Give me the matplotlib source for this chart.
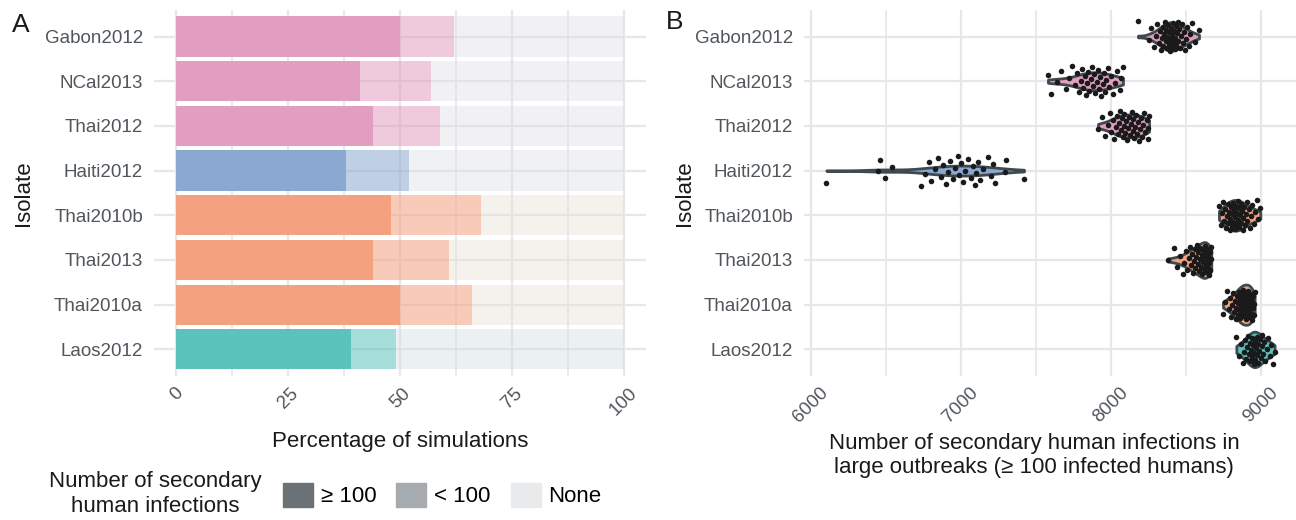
"""
Zwei Panels: Anteil grosser Ausbrueche pro Isolat (A) und Verteilung der
sekundaeren Infektionen in grossen Ausbruechen (B).
"""
import matplotlib
matplotlib.use("Agg")
import matplotlib.pyplot as plt
from matplotlib import cbook, mlab
from matplotlib.patches import Patch
import numpy as np

plt.rcParams["font.family"] = ["Liberation Sans", "DejaVu Sans"]

# --- Daten -----------------------------------------------------------------
isolates = ["Gabon2012", "NCal2013", "Thai2012", "Haiti2012",
            "Thai2010b", "Thai2013", "Thai2010a", "Laos2012"]
groups = ["pink", "pink", "pink", "blue", "orange", "orange", "orange", "teal"]

pct_large = [50, 41, 44, 38, 48, 44, 50, 39]   # >= 100
pct_small = [12, 16, 15, 14, 20, 17, 16, 10]   # < 100

inf_gabon = [8182, 8255, 8270, 8290, 8300, 8310, 8320, 8330, 8335, 8342,
             8348, 8352, 8358, 8362, 8366, 8370, 8374, 8378, 8382, 8386,
             8390, 8394, 8398, 8402, 8406, 8410, 8414, 8418, 8422, 8426,
             8430, 8434, 8438, 8442, 8447, 8452, 8458, 8464, 8470, 8476,
             8483, 8490, 8498, 8505, 8512, 8520, 8530, 8545, 8560, 8589]
inf_ncal = [7582, 7600, 7640, 7671, 7700, 7720, 7745, 7760, 7775, 7790,
            7800, 7810, 7818, 7826, 7834, 7842, 7850, 7858, 7866, 7874,
            7882, 7890, 7898, 7906, 7914, 7922, 7930, 7938, 7946, 7954,
            7962, 7970, 7980, 7990, 8000, 8015, 8030, 8045, 8060, 8070, 8082]
inf_thai2012 = [7916, 7940, 7960, 7980, 7995, 8005, 8015, 8025, 8035, 8042,
                8050, 8056, 8062, 8068, 8074, 8080, 8086, 8092, 8098, 8104,
                8110, 8116, 8122, 8128, 8134, 8140, 8146, 8152, 8158, 8164,
                8170, 8176, 8182, 8188, 8194, 8200, 8208, 8216, 8224, 8232,
                8240, 8248, 8252, 8256]
inf_haiti = [6105, 6449, 6460, 6498, 6542, 6738, 6760, 6790, 6804, 6830,
             6849, 6870, 6882, 6900, 6916, 6930, 6949, 6960, 6982, 6990,
             7004, 7015, 7027, 7050, 7071, 7085, 7093, 7105, 7116, 7130,
             7150, 7182, 7200, 7216, 7230, 7293, 7304, 7422]
inf_thai2010b = [8722, 8735, 8745, 8752, 8758, 8764, 8770, 8775, 8780, 8785,
                 8790, 8794, 8798, 8802, 8806, 8810, 8814, 8818, 8822, 8826,
                 8830, 8834, 8838, 8842, 8846, 8850, 8854, 8858, 8862, 8866,
                 8870, 8875, 8880, 8885, 8890, 8895, 8900, 8906, 8912, 8920,
                 8928, 8936, 8945, 8955, 8965, 8975, 8985, 8998]
inf_thai2013 = [8382, 8420, 8445, 8465, 8480, 8492, 8503, 8512, 8520, 8528,
                8535, 8542, 8548, 8554, 8560, 8565, 8570, 8575, 8580, 8585,
                8590, 8594, 8598, 8602, 8606, 8610, 8614, 8618, 8622, 8626,
                8630, 8633, 8636, 8639, 8642, 8645, 8648, 8651, 8654, 8657,
                8660, 8664, 8668, 8671]
inf_thai2010a = [8749, 8765, 8778, 8788, 8796, 8803, 8810, 8816, 8822, 8828,
                 8833, 8838, 8842, 8846, 8850, 8854, 8858, 8862, 8865, 8868,
                 8871, 8874, 8877, 8880, 8883, 8886, 8889, 8892, 8895, 8898,
                 8901, 8904, 8907, 8910, 8913, 8916, 8919, 8922, 8925, 8928,
                 8931, 8934, 8937, 8940, 8943, 8946, 8950, 8954, 8957, 8960]
inf_laos = [8838, 8855, 8868, 8880, 8890, 8898, 8905, 8911, 8917, 8922,
            8927, 8932, 8937, 8941, 8945, 8949, 8953, 8957, 8961, 8965,
            8969, 8973, 8977, 8981, 8985, 8990, 8995, 9000, 9006, 9012,
            9018, 9025, 9032, 9040, 9050, 9060, 9070, 9080, 9093]

infections = [inf_gabon, inf_ncal, inf_thai2012, inf_haiti,
              inf_thai2010b, inf_thai2013, inf_thai2010a, inf_laos]

# --- Farben ----------------------------------------------------------------
BASE = {"pink": "#E29EC0", "blue": "#8BA8D0",
        "orange": "#F4A180", "teal": "#5BC3BC"}
NONE = {"pink": "#E2DEE6", "blue": "#DEE0E6",
        "orange": "#E9E0D7", "teal": "#D3DEE3"}
GRID = "#E6E6EB"
TICK = "#50565C"
TEXT = "#1A1A1A"
OUTLINE = "#3E4A4F"

fig = plt.figure(figsize=(12.96, 5.2), dpi=100)
W, H = 1296, 520
y0, h = 1 - 376.2 / H, 366.5 / H
axA = fig.add_axes([154 / W, y0, 492 / W, h])
axB = fig.add_axes([804 / W, y0, 493 / W, h])

ypos = np.arange(len(isolates))


def style(ax):
    for s in ax.spines.values():
        s.set_visible(False)
    ax.tick_params(length=0, which="both")
    ax.set_axisbelow(True)
    ax.grid(True, which="major", color=GRID, lw=1.6)
    ax.grid(True, which="minor", axis="x", color=GRID, lw=1.2)
    ax.set_yticks(ypos)
    ax.set_yticklabels(isolates, fontsize=13.5, color=TICK)
    ax.tick_params(axis="y", pad=8)
    ax.set_ylim(len(isolates) - 0.4, -0.6)
    ax.set_ylabel("Isolate", fontsize=16, color=TEXT)


# --- Panel A ---------------------------------------------------------------
style(axA)
for i, g in enumerate(groups):
    large, small = pct_large[i], pct_small[i]
    none = 100 - large - small
    axA.barh(i, large, left=0, height=0.9, color=BASE[g], lw=0)
    axA.barh(i, small, left=large, height=0.9, color=BASE[g], alpha=0.55, lw=0)
    axA.barh(i, none, left=large + small, height=0.9, color=NONE[g],
             alpha=0.45, lw=0)
axA.set_xlim(-5, 105)
axA.set_xticks([0, 25, 50, 75, 100])
axA.set_xticks([12.5, 37.5, 62.5, 87.5], minor=True)
axA.set_xticklabels(["0", "25", "50", "75", "100"], rotation=45,
                    ha="center", va="top", fontsize=13.5, color=TICK)
axA.tick_params(axis="x", pad=6)
axA.set_xlabel("Percentage of simulations", fontsize=16, color=TEXT)
axA.xaxis.set_label_coords(0.5, -0.15)
axA.yaxis.set_label_coords(-0.244, 0.5)

# --- Panel B ---------------------------------------------------------------
style(axB)


def kde(x, coords):
    k = mlab.GaussianKDE(x, bw_method=0.9 * len(x) ** -0.2)
    return k.evaluate(coords)


stats = cbook.violin_stats([np.asarray(v, float) for v in infections], kde,
                           points=200)
peaks = [s["vals"].max() for s in stats]
widths = [0.9 * p / max(peaks) for p in peaks]   # Flaechen-Skalierung
try:
    parts = axB.violin(stats, positions=ypos, orientation="horizontal",
                       widths=widths, showextrema=False)
except TypeError:
    parts = axB.violin(stats, positions=ypos, vert=False,
                       widths=widths, showextrema=False)
for body, g in zip(parts["bodies"], groups):
    body.set_facecolor(BASE[g])
    body.set_edgecolor(OUTLINE)
    body.set_linewidth(2.0)
    body.set_alpha(1)
    body.set_zorder(2)

# deterministischer Jitter (Goldener-Schnitt-Folge) statt Zufall
for i, vals in enumerate(infections):
    k = np.arange(len(vals))
    jit = ((k * 0.6180339887 + 0.3 * i) % 1 - 0.5) * 0.68
    axB.scatter(vals, i + jit, s=16, color="#1A1A1A", lw=0, zorder=3)

allv = np.concatenate([np.asarray(v) for v in infections])
pad = 0.05 * (allv.max() - allv.min())
axB.set_xlim(allv.min() - pad, allv.max() + pad)
axB.set_xticks([6000, 7000, 8000, 9000])
axB.set_xticks([6500, 7500, 8500], minor=True)
axB.set_xticklabels(["6000", "7000", "8000", "9000"], rotation=45,
                    ha="center", va="top", fontsize=13.5, color=TICK)
axB.tick_params(axis="x", pad=6)
axB.set_xlabel("Number of secondary human infections in\n"
               "large outbreaks (\u2265 100 infected humans)",
               fontsize=16, color=TEXT)
axB.xaxis.set_label_coords(0.467, -0.155)
axB.yaxis.set_label_coords(-0.221, 0.5)

# --- Legende und Panel-Buchstaben -----------------------------------------
fig.text(12 / W, 1 - 25 / H, "A", fontsize=19, color=TEXT, va="center")
fig.text(666 / W, 1 - 22 / H, "B", fontsize=19, color=TEXT, va="center")

fig.text(155 / W, 1 - 494 / H, "Number of secondary\nhuman infections",
         fontsize=16, color=TEXT, ha="center", va="center",
         multialignment="center")
handles = [Patch(color="#6B7174", label="\u2265 100"),
           Patch(color="#A6ABB0", label="< 100"),
           Patch(color="#E9EAEC", label="None")]
fig.legend(handles=handles, ncol=3, frameon=False, fontsize=16,
           loc="center left", bbox_to_anchor=(283 / W, 1 - 495 / H),
           handlelength=1.35, handleheight=1.35, handletextpad=0.35,
           columnspacing=0.9, borderaxespad=0, borderpad=0)

fig.savefig("out.png", dpi=100)
